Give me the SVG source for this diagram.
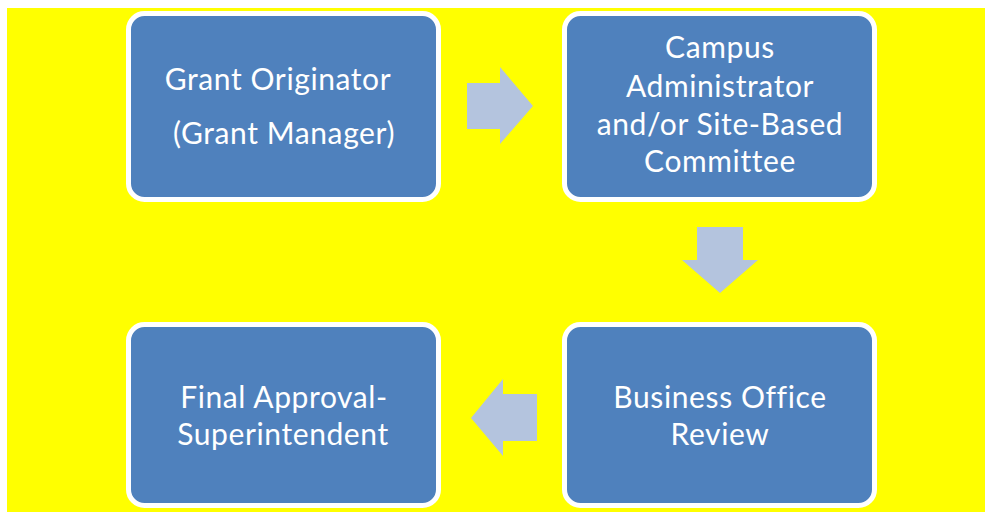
<svg xmlns="http://www.w3.org/2000/svg" width="985" height="512" viewBox="0 0 985 512">
<style>
.box{fill:#4F81BD;stroke:#FFFFFF;stroke-width:5}
.arr{fill:#B4C4DE}
text{font-family:Lato,"Liberation Sans",sans-serif;font-size:30px;letter-spacing:0.6px;fill:#FFFFFF;text-anchor:middle}
</style>
<rect x="0" y="0" width="985" height="512" fill="#FFFFFF"/>
<rect x="7" y="8" width="978" height="504" fill="#FFFF00"/>
<g id="connectors">
<polygon class="arr" points="467,83 500,83 500,67 533,106 500,144 500,129 467,129"/>
<polygon class="arr" points="697,227 743,227 743,260 758,260 720,293 682,260 697,260"/>
<polygon class="arr" points="537,394 503,394 503,379 471,418 503,456 503,441 537,441"/>
</g>
<g id="grant-originator">
<rect class="box" x="128.5" y="13.5" width="310" height="186" rx="16"/>
<text x="278" y="90">Grant Originator</text>
<text x="284" y="144">(Grant Manager)</text>
</g>
<g id="campus-administrator">
<rect class="box" x="564.5" y="13.5" width="310" height="186" rx="16"/>
<text x="720" y="58">Campus</text>
<text x="720" y="97">Administrator</text>
<text x="720" y="135">and/or Site-Based</text>
<text x="720" y="172">Committee</text>
</g>
<g id="final-approval">
<rect class="box" x="128.5" y="324.5" width="310" height="181" rx="16"/>
<text x="284" y="408">Final Approval-</text>
<text x="283" y="445">Superintendent</text>
</g>
<g id="business-office">
<rect class="box" x="564.5" y="324.5" width="310" height="181" rx="16"/>
<text x="720" y="408">Business Office</text>
<text x="720" y="445">Review</text>
</g>
</svg>
